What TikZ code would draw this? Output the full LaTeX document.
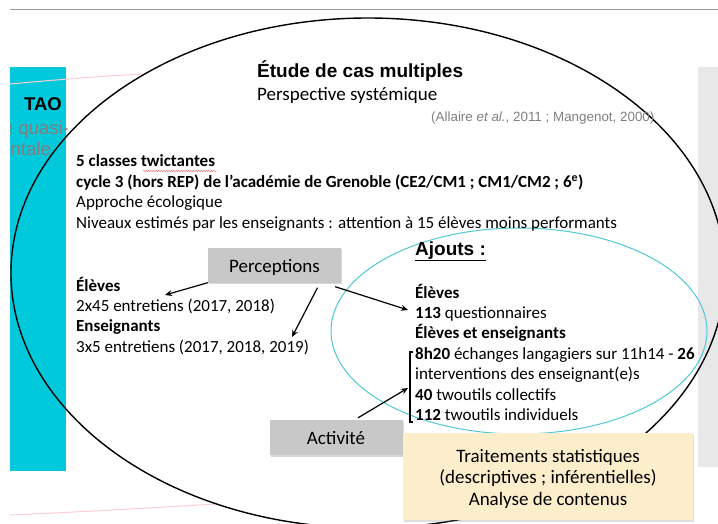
\documentclass[tikz,border=0pt]{standalone}
\usepackage{fontspec}
\setmainfont{Carlito}
\newfontfamily\arial{Liberation Sans}
\usetikzlibrary{arrows.meta,shadows,decorations.pathmorphing}
\definecolor{turquoise}{RGB}{0,201,220}
\definecolor{turqclair}{RGB}{80,200,215}
\definecolor{grisboite}{RGB}{200,200,200}
\definecolor{grisfond}{RGB}{232,232,232}
\definecolor{jaunepale}{RGB}{252,237,203}
\definecolor{rosepale}{RGB}{255,205,212}
\definecolor{griscite}{RGB}{128,128,128}
\newcommand{\corps}{\fontsize{17}{20.4}\selectfont}
\newcommand{\gros}{\fontsize{19}{22}\selectfont}
\begin{document}
\begin{tikzpicture}[x=1pt,y=-1pt,
    boite/.style={fill=grisboite,minimum width=133pt,minimum height=35pt,inner sep=0pt,font=\gros,
      text height=14pt,text depth=0pt,
      drop shadow={shadow xshift=1pt,shadow yshift=-1.5pt,opacity=0.3}},
    bloc/.style={anchor=base west,inner sep=0pt,font=\corps},
    fleche/.style={-{Stealth[length=7pt,width=6pt]},line width=1.2pt}]
    \useasboundingbox (0,0) rectangle (718,524);
    \draw[gray!80,line width=0.8pt] (10,9)--(718,9);
    \fill[white] (368,273) ellipse [x radius=357pt,y radius=255pt];
    \fill[turquoise] (10,67) rectangle (66,471);
    \fill[grisfond] (698,67) rectangle (718,467);
    % what remains of the slide behind
    \draw[rosepale,line width=1pt] (10,84) .. controls (55,80) and (100,76) .. (145,74);
    \draw[rosepale,line width=1pt] (10,515) .. controls (80,512) and (150,508) .. (215,504);
    \begin{scope}
        \clip (10,0) rectangle (718,524);
        \node[anchor=base east,inner sep=0pt,text=griscite] (quasi) at (69,135) {\arial\fontsize{18.5}{22}\selectfont e quasi-};
        \node[anchor=base east,inner sep=0pt,text=griscite] (exper) at (51,156) {\arial\fontsize{18.5}{22}\selectfont ntale};
    \end{scope}
    \node[anchor=base west,inner sep=0pt] (tao) at (24,111) {\arial\bfseries\fontsize{18.5}{22}\selectfont TAO};
    \draw[line width=1.4pt] (368,273) ellipse [x radius=357pt,y radius=255pt];
    \draw[turqclair,line width=1pt] (519,331) ellipse [x radius=188pt,y radius=103pt];
    % texts
    \node[anchor=base west,inner sep=0pt] (titre) at (257,78) {\arial\bfseries\gros Étude de cas multiples};
    \node[anchor=base west,inner sep=0pt,font=\gros] (persp) at (257,101) {Perspective systémique};
    \node[anchor=base west,inner sep=0pt,text=griscite] (cite) at (431,122) {\arial\fontsize{13.4}{16}\selectfont (Allaire \textit{et al.}, 2011 ; Mangenot, 2000)};
    \node[bloc] (classes) at (76,167) {\begin{tabular}[t]{@{}l@{}}
        \textbf{5 classes twictantes}\\
        \textbf{cycle 3 (hors REP) de l’académie de Grenoble (CE2/CM1 ; CM1/CM2 ; 6\textsuperscript{e})}\\
        Approche écologique\\
        Niveaux estimés par les enseignants : attention à 15 élèves moins performants
    \end{tabular}};
    \draw[red!75,decorate,decoration={snake,amplitude=0.5pt,segment length=2.5pt}] (143,171) -- (217,171);
    \node[bloc] (entretiens) at (76,291) {\begin{tabular}[t]{@{}l@{}}
        \textbf{Élèves}\\
        2x45 entretiens (2017, 2018)\\
        \textbf{Enseignants}\\
        3x5 entretiens (2017, 2018, 2019)
    \end{tabular}};
    \node[anchor=base west,inner sep=0pt] (ajouts) at (415,255) {\arial\bfseries\gros\underline{Ajouts :}};
    \node[bloc] (ajout) at (415,298) {\begin{tabular}[t]{@{}l@{}}
        \textbf{Élèves}\\
        \textbf{113} questionnaires\\
        \textbf{Élèves et enseignants}\\
        \textbf{8h20} échanges langagiers sur 11h14 - \textbf{26}\\
        interventions des enseignant(e)s\\
        \textbf{40} twoutils collectifs\\
        \textbf{112} twoutils individuels
    \end{tabular}};
    \draw[line width=1.2pt] (413,352)--(410,352)--(410,422)--(413,422);
    % boxes and arrows
    \node[boite] (perc) at (274.5,265) {Perceptions};
    \node[boite] (activ) at (336,437.5) {Activité};
    \node[fill=jaunepale,minimum width=290pt,inner sep=0pt,text height=29pt,text depth=58pt,anchor=base,
      drop shadow={shadow xshift=1pt,shadow yshift=-1.5pt,opacity=0.25}] (trait) at (548,462)
      {\fontsize{19}{21.8}\selectfont\begin{tabular}[t]{@{}c@{}}Traitements statistiques\\(descriptives ; inférentielles)\\Analyse de contenus\end{tabular}};
    \coordinate (ptElv) at (165,295);
    \coordinate (ptEns) at (292,337);
    \coordinate (ptQuest) at (408,310);
    \coordinate (ptCroch) at (408,388);
    \draw[fleche] (perc.south west) -- (ptElv);
    \draw[fleche] ([xshift=43pt,yshift=-5pt]perc.south) -- (ptEns);
    \draw[fleche] ([xshift=-6pt,yshift=-4pt]perc.south east) -- (ptQuest);
    \draw[fleche] ([xshift=22pt,yshift=2pt]activ.north) -- (ptCroch);
\end{tikzpicture}
\end{document}
